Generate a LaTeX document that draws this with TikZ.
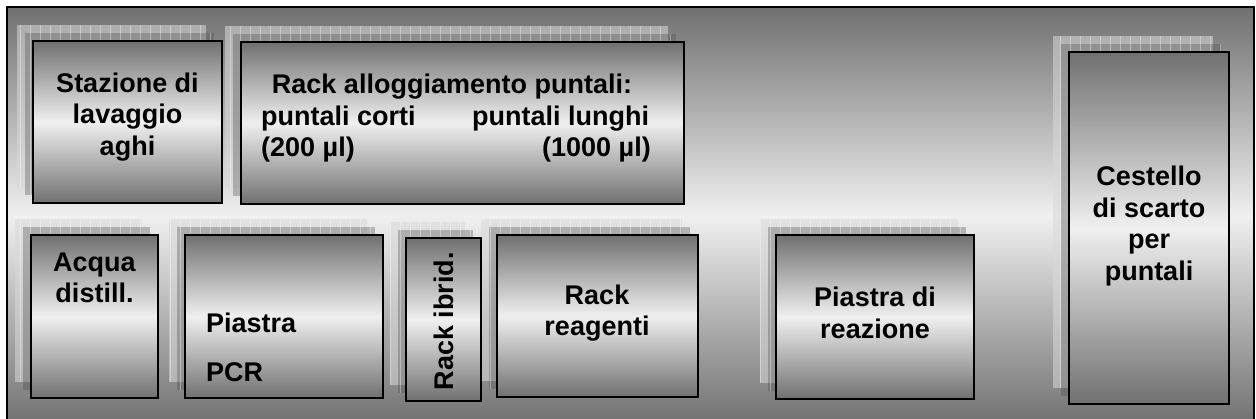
\documentclass[tikz,border=0pt]{standalone}
\usepackage{fontspec}
\setmainfont{Liberation Sans}
\usetikzlibrary{fit}
\definecolor{panedark}{gray}{0.44}
\definecolor{panelight}{gray}{0.94}
% two stippled shadow layers behind a module, shifted up-left
\newcommand\twinshadow[4]{%
  \fill[shadowfar] (#1-16,#2-16) rectangle (#3-16,#4-16);
  \fill[shadownear] (#1-8,#2-8) rectangle (#3-8,#4-8);
  \begin{scope}
    \clip (#1-16,#2-16) rectangle (#3-16,#4-16) (#1-8,#2-8) rectangle (#3-8,#4-8);
    \draw[shadowgrid] (#1-16,#2-16) grid (#3-8,#4-8);
  \end{scope}
}
\begin{document}
\begin{tikzpicture}[x=1pt,y=-1pt,
  module/.style={draw=black, line width=2pt, top color=panedark,
    bottom color=panedark, middle color=panelight, inner sep=0pt},
  lbl/.style={font=\bfseries\fontsize{27}{31.5}\selectfont, text=black,
    inner sep=0pt, align=center},
  shadowfar/.style={fill=white!85!black, opacity=0.55},
  shadownear/.style={fill=black!70, opacity=0.33},
  shadowgrid/.style={draw=white, opacity=0.35, line width=0.8pt, step=10},
]
\useasboundingbox (0,0) rectangle (1256,419);

% work deck
\draw[line width=2pt, top color=panedark, bottom color=panedark,
  middle color=panelight] (7,7) rectangle (1254,425);

% shadows
\twinshadow{33}{41}{222}{203}
\twinshadow{241}{42}{684}{204}
\twinshadow{31}{235}{158}{398}
\twinshadow{185}{235}{383}{398}
\twinshadow{406}{238}{481}{401}
\twinshadow{497}{235}{698}{397}
\twinshadow{776}{235}{974}{399}
\twinshadow{1069}{52}{1229}{404}

% modules
\node[module, fit={(33,41)(222,203)}] (stazione) {};
\node[module, fit={(241,42)(684,204)}] (rackpunt) {};
\node[module, fit={(31,235)(158,398)}] (acqua) {};
\node[module, fit={(185,235)(383,398)}] (pcr) {};
\node[module, fit={(406,238)(481,401)}] (ibrid) {};
\node[module, fit={(497,235)(698,397)}] (reagenti) {};
\node[module, fit={(776,235)(974,399)}] (reazione) {};
\node[module, fit={(1069,52)(1229,404)}] (cestello) {};

% labels
\node[lbl] (stazionelbl) at (127.5,117) {Stazione di\\lavaggio\\aghi};
\node[lbl, anchor=base] (rackpunttitle) at (452,94) {Rack alloggiamento puntali:};
\node[lbl, anchor=base west] (cortilbl) at (261,126) {puntali corti};
\node[lbl, anchor=base west] (lunghilbl) at (472,126) {puntali lunghi};
\node[lbl, anchor=base west] (cortivol) at (261,157) {(200 µl)};
\node[lbl, anchor=base east] (lunghivol) at (651,157) {(1000 µl)};
\node[lbl] (acqualbl) at (94.5,278) {Acqua\\distill.};
\node[lbl, anchor=base west] (pcrlbla) at (206,333) {Piastra};
\node[lbl, anchor=base west] (pcrlblb) at (206,382) {PCR};
\node[lbl, rotate=90] (ibridlbl) at (443.5,321) {Rack ibrid.};
\node[lbl] (reagentilbl) at (597,313) {Rack\\reagenti};
\node[lbl] (reazionelbl) at (875,313) {Piastra di\\reazione};
\node[lbl] (cestellolbl) at (1149,226) {Cestello\\di scarto\\per\\puntali};
\end{tikzpicture}
\end{document}
